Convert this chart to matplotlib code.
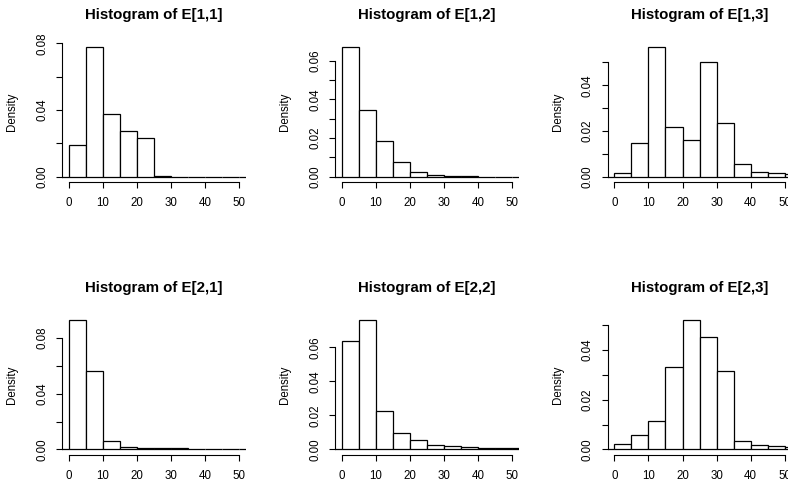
import matplotlib
matplotlib.use("Agg")
import matplotlib.pyplot as plt
from matplotlib.ticker import FixedLocator, FixedFormatter

plt.rcParams['font.family'] = ['Liberation Sans', 'DejaVu Sans']

# bin edges (width 5)
bin_edges = [-5, 0, 5, 10, 15, 20, 25, 30, 35, 40, 45, 50, 55]

titles = ["Histogram of E[1,1]", "Histogram of E[1,2]", "Histogram of E[1,3]",
          "Histogram of E[2,1]", "Histogram of E[2,2]", "Histogram of E[2,3]"]

e11 = [0, 0.0188, 0.0776, 0.0376, 0.0272, 0.0230, 0.0006, 0, 0, 0, 0, 0]
e12 = [0, 0.0669, 0.0343, 0.0184, 0.0078, 0.0024, 0.0010, 0.0005, 0.0002, 0.0001, 0.0001, 0.0001]
e13 = [0, 0.0016, 0.0146, 0.0566, 0.0216, 0.0162, 0.0501, 0.0236, 0.0054, 0.0023, 0.0016, 0.0012]
e21 = [0, 0.0931, 0.0561, 0.0060, 0.0017, 0.0010, 0.0007, 0.0007, 0.0005, 0.0005, 0.0002, 0.0004]
e22 = [0, 0.0641, 0.0762, 0.0226, 0.0099, 0.0055, 0.0027, 0.0019, 0.0014, 0.0010, 0.0006, 0.0006]
e23 = [0, 0.0023, 0.0057, 0.0113, 0.0332, 0.0521, 0.0451, 0.0315, 0.0033, 0.0019, 0.0013, 0.0009]

x_ticks = [0, 10, 20, 30, 40, 50]
x_labels = ["0", "10", "20", "30", "40", "50"]

y_ticks = [
    [0, 0.02, 0.04, 0.06, 0.08],
    [0, 0.01, 0.02, 0.03, 0.04, 0.05, 0.06],
    [0, 0.01, 0.02, 0.03, 0.04, 0.05],
    [0, 0.02, 0.04, 0.06, 0.08],
    [0, 0.02, 0.04, 0.06],
    [0, 0.01, 0.02, 0.03, 0.04, 0.05],
]
y_labels = [
    ["0.00", "", "0.04", "", "0.08"],
    ["0.00", "", "0.02", "", "0.04", "", "0.06"],
    ["0.00", "", "0.02", "", "0.04", ""],
    ["0.00", "", "0.04", "", "0.08"],
    ["0.00", "0.02", "0.04", "0.06"],
    ["0.00", "", "0.02", "", "0.04", ""],
]

series = [e11, e12, e13, e21, e22, e23]

W, H = 788, 486
fig = plt.figure(figsize=(W / 100, H / 100), dpi=100)

col_left = [62.2, 335.0, 607.6]
row_top = [42.2, 314.8]
ax_w, ax_h = 183.9, 139.8

for i, vals in enumerate(series):
    r, c = divmod(i, 3)
    ax = fig.add_axes([col_left[c] / W, 1 - (row_top[r] + ax_h) / H, ax_w / W, ax_h / H])
    ax.bar(bin_edges[:-1], vals, width=5, align='edge', facecolor='white',
           edgecolor='black', linewidth=0.9)
    ymax = max(vals)
    ax.set_xlim(-2, 52)
    ax.set_ylim(-0.04 * ymax, 1.04 * ymax)
    for s in ('top', 'right'):
        ax.spines[s].set_visible(False)
    ax.spines['left'].set_bounds(y_ticks[i][0], y_ticks[i][-1])
    ax.spines['bottom'].set_bounds(x_ticks[0], x_ticks[-1])
    for s in ('left', 'bottom'):
        ax.spines[s].set_linewidth(0.8)
    ax.xaxis.set_major_locator(FixedLocator(x_ticks))
    ax.xaxis.set_major_formatter(FixedFormatter(x_labels))
    ax.yaxis.set_major_locator(FixedLocator(y_ticks[i]))
    ax.yaxis.set_major_formatter(FixedFormatter(y_labels[i]))
    ax.tick_params(axis='both', direction='out', length=4.3, width=0.8, labelsize=8.3)
    ax.tick_params(axis='x', pad=6.5)
    ax.tick_params(axis='y', pad=5.5)
    for lab in ax.get_yticklabels():
        lab.set_rotation(90)
        lab.set_va('center')
    ax.text(-0.271, 0.5, "Density", rotation=90, ha='center', va='center',
            fontsize=8.3, transform=ax.transAxes)
    ax.set_title(titles[i], fontsize=10.8, fontweight='bold', pad=16.5)

fig.savefig("out.png", dpi=100)
